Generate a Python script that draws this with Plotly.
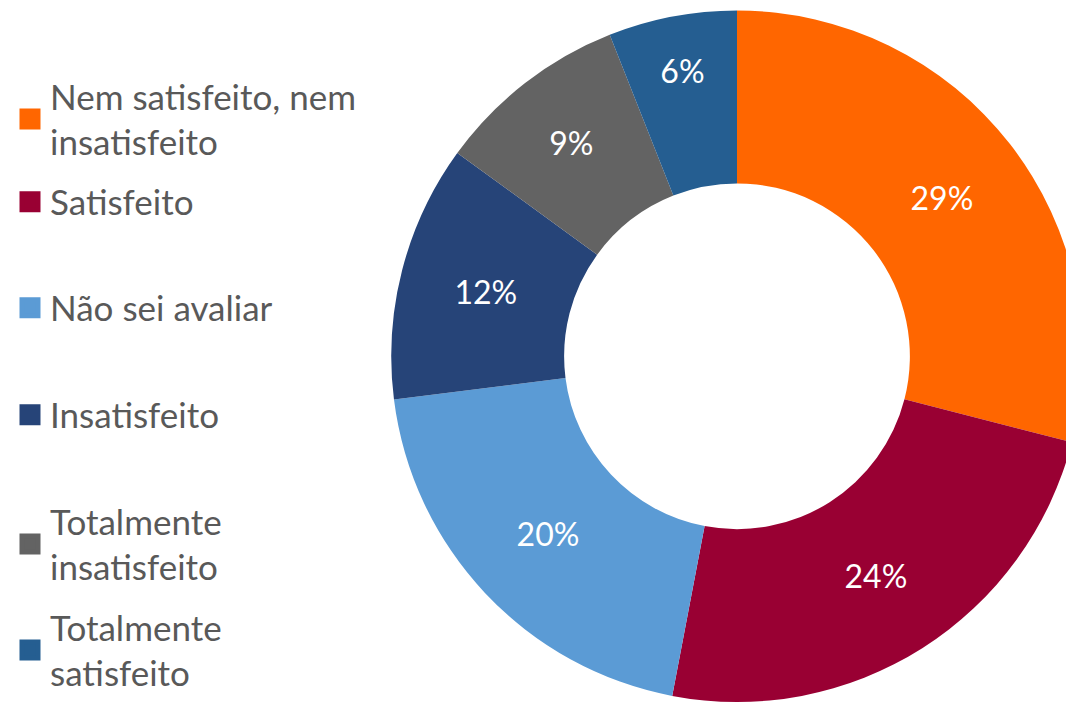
import plotly.graph_objects as go

labels = ["Nem satisfeito, nem<br>insatisfeito", "Satisfeito", "Não sei avaliar",
          "Insatisfeito", "Totalmente<br>insatisfeito", "Totalmente<br>satisfeito"]
values = [29, 24, 20, 12, 9, 6]
colors = ["#FF6600", "#990033", "#5B9BD5", "#264478", "#636363", "#255E91"]

# page body has an 8px margin; work in figure pixels = screen pixels - 8
OFF = 8
W, H = 1100, 694
FONT = "Lato"
legend_y_screen = [119, 202, 308, 415, 544, 650]  # legend item centers on screen

top_f, bot_f = 2.5, H
r = (bot_f - top_f) / 2
cx, cy = 737 - OFF, (top_f + bot_f) / 2
dom_x = [(cx - r) / W, (cx + r) / W]
dom_y = [0.0, 1 - top_f / H]

fig = go.Figure()
fig.add_trace(go.Pie(
    labels=labels, values=values, sort=False, direction="clockwise",
    hole=0.5, marker=dict(colors=colors, line=dict(width=0)),
    texttemplate="%{value}%", textposition="inside", insidetextorientation="horizontal",
    textfont=dict(color="white", size=32, family=FONT),
    domain=dict(x=dom_x, y=dom_y),
    showlegend=False, hoverinfo="label+value",
))

layout_legends = {}
for i, (lab, col, ly) in enumerate(zip(labels, colors, legend_y_screen)):
    key = "legend" if i == 0 else f"legend{i+1}"
    fig.add_trace(go.Scatter(
        x=[None], y=[None], mode="markers", name=lab,
        marker=dict(symbol="square", size=16, color=col, line=dict(color=col, width=5)),
        legend=key, showlegend=True,
    ))
    layout_legends[key] = dict(
        x=2 / W, xanchor="left", y=1 - (ly - OFF) / H, yanchor="middle",
        font=dict(size=35, color="#595959", family=FONT),
        bgcolor="rgba(0,0,0,0)", itemclick=False, itemdoubleclick=False,
    )

fig.update_layout(
    width=W, height=H, margin=dict(l=0, r=0, t=0, b=0),
    paper_bgcolor="white", plot_bgcolor="white",
    xaxis=dict(visible=False), yaxis=dict(visible=False),
    **layout_legends,
)
fig.write_html("out.html")
